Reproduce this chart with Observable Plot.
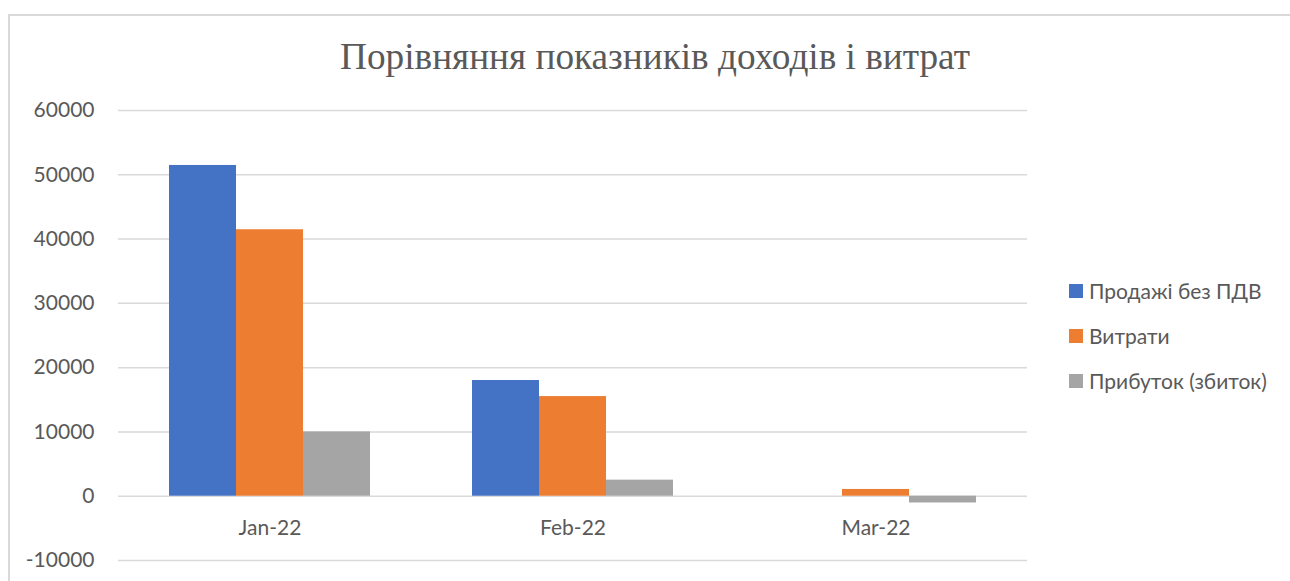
<!DOCTYPE html>
<html>
<head>
<meta charset="utf-8">
<script src="https://cdn.jsdelivr.net/npm/d3@7"></script>
<script src="https://cdn.jsdelivr.net/npm/@observablehq/plot@0.6"></script>
<style>
  html, body { margin: 0; padding: 0; background: #fff; }
  #wrap { position: relative; width: 1290px; height: 581px; overflow: hidden; }
  #frame { position: absolute; left: 8px; top: 14px; width: 1300px; height: 600px; border-left: 2px solid #d9d9d9; border-top: 2px solid #d9d9d9; box-sizing: border-box; }
  #title { position: absolute; left: 0; width: 1310px; top: 34px; text-align: center; font-family: "Liberation Serif", "DejaVu Serif", serif; font-size: 38px; color: #595959; white-space: nowrap; transform: scaleX(0.98); }
  #chart { position: absolute; left: 0; top: 0; }
  #legend { position: absolute; left: 1069px; top: 268px; font-family: Lato, "Open Sans", sans-serif; font-size: 21px; color: #595959; }
  #legend .item { display: flex; align-items: center; height: 45px; white-space: nowrap; }
  #legend .sw { width: 14px; height: 14px; margin-right: 6px; }
</style>
</head>
<body>
<div id="wrap">
  <div id="frame"></div>
  <div id="chart"></div>
  <div id="title">Порівняння показників доходів і витрат</div>
  <div id="legend"></div>
</div>
<script>
const months = ["Jan-22", "Feb-22", "Mar-22"];
const seriesNames = ["Продажі без ПДВ", "Витрати", "Прибуток (збиток)"];
const seriesColors = ["#4472C4", "#ED7D31", "#A5A5A5"];
const sales = [51450, 18000, 0];
const costs = [41450, 15500, 1050];
const profit = [10000, 2500, -1050];
const yTicks = [-10000, 0, 10000, 20000, 30000, 40000, 50000, 60000];

const seriesValues = [sales, costs, profit];
const rows = [];
months.forEach((m, i) => {
  seriesNames.forEach((s, j) => rows.push({month: m, series: s, value: seriesValues[j][i]}));
});

const chart = Plot.plot({
  width: 1290,
  height: 581,
  marginTop: 110,
  marginBottom: 21,
  marginLeft: 117,
  marginRight: 263,
  style: {fontFamily: "Lato, 'Open Sans', sans-serif", fontSize: "21px", color: "#595959", background: "transparent"},
  fx: {domain: months, padding: 0, axis: null},
  x: {domain: seriesNames, paddingInner: 0, paddingOuter: 0.75, axis: null},
  y: {domain: [-10000, 60000], axis: null},
  color: {domain: seriesNames, range: seriesColors},
  marks: [
    Plot.gridY(yTicks, {stroke: "#d9d9d9", strokeOpacity: 1, strokeWidth: 1.5}),
    Plot.axisY({ticks: yTicks, tickSize: 0, tickPadding: 24, tickFormat: d => String(d), fontSize: 21, fill: "#595959", facetAnchor: "left", anchor: "left", label: null}),
    Plot.barY(rows, {fx: "month", x: "series", y: "value", fill: "series"}),
    Plot.text(months, {fx: d => d, y: () => 0, text: d => d, dy: 32, fontSize: 21, fill: "#595959"})
  ]
});
document.getElementById("chart").appendChild(chart);

const legend = document.getElementById("legend");
seriesNames.forEach((s, i) => {
  const it = document.createElement("div");
  it.className = "item";
  const sw = document.createElement("span");
  sw.className = "sw";
  sw.style.background = seriesColors[i];
  const t = document.createElement("span");
  t.textContent = s;
  it.appendChild(sw); it.appendChild(t);
  legend.appendChild(it);
});
</script>
</body>
</html>
